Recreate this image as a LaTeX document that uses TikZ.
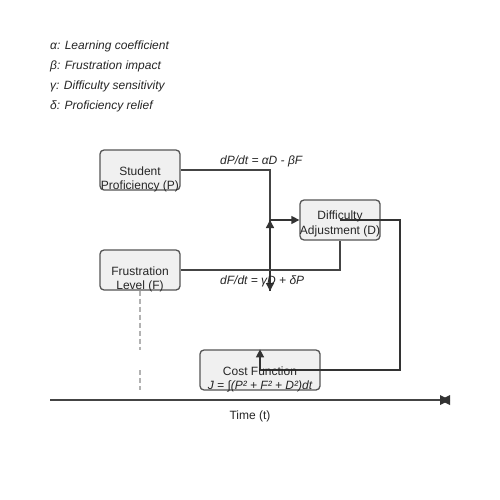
\documentclass[tikz,border=0pt]{standalone}
\usepackage{fontspec}
\setmainfont{Liberation Sans}
\usetikzlibrary{arrows.meta}
\definecolor{boxfill}{HTML}{F0F0F0}
\definecolor{boxline}{HTML}{555555}
\definecolor{wire}{HTML}{444444}
\definecolor{tip}{HTML}{333333}
\tikzset{
  box/.style={draw=boxline, fill=boxfill, line width=1.3pt, rounded corners=4pt, minimum width=80pt, minimum height=40pt, inner sep=0pt},
  txt/.style={font=\fontsize{12}{14}\selectfont, inner sep=0pt, text=black!85},
  itxt/.style={font=\fontsize{12}{14}\selectfont\itshape, inner sep=0pt, anchor=west, text=black!85},
  wire/.style={draw=wire, line width=1.4pt},
  arr/.style={wire, -{Triangle[length=8pt,width=8pt]}, tip},
  guide/.style={draw=gray!60, line width=1.4pt, dash pattern=on 5pt off 3pt},
}
\begin{document}
\begin{tikzpicture}[x=1pt,y=-1pt]
\useasboundingbox (0,0) rectangle (500,500);
\fill[white] (0,0) rectangle (500,500);
% legend
\node[itxt] (l1) at (50,46) {α: Learning coefficient};
\node[itxt] (l2) at (50,66) {β: Frustration impact};
\node[itxt] (l3) at (50,86) {γ: Difficulty sensitivity};
\node[itxt] (l4) at (50,106) {δ: Proficiency relief};
% boxes
\node[box] (P) at (140,170) {};
\node[box] (F) at (140,270) {};
\node[box] (D) at (340,220) {};
\node[box, minimum width=120pt] (C) at (260,370) {};
% coordinates
\coordinate (j1) at (270,170);
\coordinate (j2) at (270,220);
\coordinate (j3) at (270,291);
\coordinate (j4) at (340,270);
\coordinate (k1) at (400,220);
\coordinate (k2) at (400,370);
\coordinate (k3) at (260,370);
\coordinate (dc) at (340,220);
% connectors
\draw[wire] (P.east |- j1) -- (j1) -- (j2);
\draw[arr] (j2) -- (D.west);
\draw[arr] (j2) -- (j3);
\draw[arr] (j3) -- (j2);
\draw[wire] (F.east |- j4) -- (j4) -- (D.south);
\draw[arr] (dc) -- (k1) -- (k2) -- (k3) -- (C.north -| k3);
% dashed
\coordinate (g1) at (140,350);
\coordinate (g2) at (140,370);
\coordinate (g3) at (140,390);
\draw[guide] (F.south) -- (g1);
\draw[guide] (g2) -- (g3);
% box texts
\node[txt] (Pt1) at (140,171) {Student};
\node[txt] (Pt2) at (140,186) {Proficiency (P)};
\node[txt] (Ft1) at (140,271) {Frustration};
\node[txt] (Ft2) at (140,286) {Level (F)};
\node[txt] (Dt1) at (340,216) {Difficulty};
\node[txt] (Dt2) at (340,231) {Adjustment (D)};
\node[txt] (Ct1) at (260,371) {Cost Function};
\node[txt, font=\fontsize{12}{14}\selectfont\itshape] (Ct2) at (260,386) {J = ∫(P² + F² + D²)dt};
% equations
\node[itxt] (e1) at (220,161) {dP/dt = αD - βF};
\node[itxt] (e2) at (220,281) {dF/dt = γD + δP};
% time axis
\coordinate (t0) at (50,400);
\coordinate (t1) at (450,400);
\draw[wire, line width=1.5pt] (t0) -- (t1);
\fill[tip] (440,395) -- (450,400) -- (440,405) -- cycle;
\fill[tip] (450,395) -- (440,400) -- (450,405) -- cycle;
\node[txt] (tl) at (250,416) {Time (t)};
\end{tikzpicture}
\end{document}
